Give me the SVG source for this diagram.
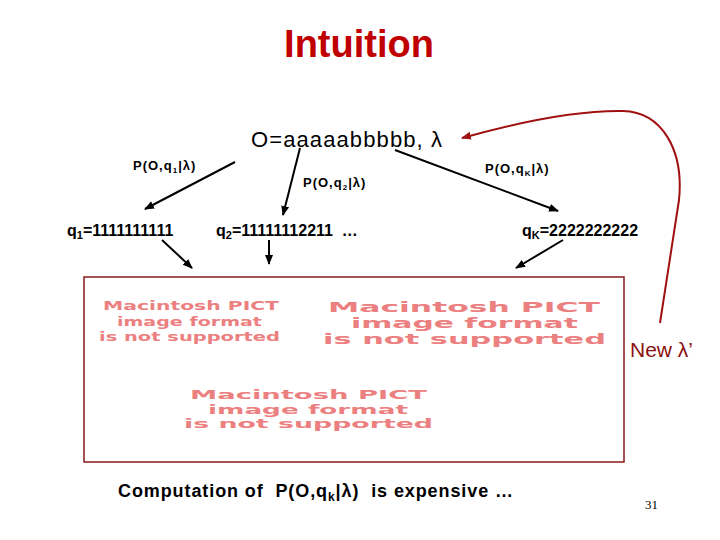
<svg xmlns="http://www.w3.org/2000/svg" width="720" height="540" viewBox="0 0 720 540">
<defs>
<style>
.t{font-family:"Liberation Sans",Arial,sans-serif}
.b{font-weight:bold}
.lbl{font-family:"Liberation Sans",Arial,sans-serif;font-weight:bold;font-size:13px;fill:#000}
.seq{font-family:"Liberation Sans",Arial,sans-serif;font-weight:bold;font-size:16px;fill:#000;white-space:pre}
.pict{font-family:"DejaVu Sans","Liberation Sans",sans-serif;font-weight:bold;fill:#ec8080}
.k{stroke:#000;stroke-width:2;fill:none}
.r{stroke:#a01010;stroke-width:2;fill:none}
</style>
<marker id="ah" viewBox="0 0 10 10" refX="9" refY="5" markerWidth="5" markerHeight="5" orient="auto" markerUnits="strokeWidth"><path d="M0,1 L10,5 L0,9 z" fill="#000"/></marker>
<marker id="ahr" viewBox="0 0 10 10" refX="9" refY="5" markerWidth="5" markerHeight="5" orient="auto" markerUnits="strokeWidth"><path d="M0,1 L10,5 L0,9 z" fill="#a01010"/></marker>
</defs>
<rect width="720" height="540" fill="#fff"/>
<g id="title"><text class="t b" x="359" y="57" font-size="38" fill="#c00000" text-anchor="middle">Intuition</text></g>
<g id="obs"><text class="t" x="251" y="147" font-size="22" fill="#000" textLength="191">O=aaaaabbbbb, λ</text></g>
<g id="p1"><text class="lbl" x="133" y="170" letter-spacing="1">P(O,q<tspan font-size="8" dy="3">1</tspan><tspan dy="-3">|λ)</tspan></text></g>
<g id="p2"><text class="lbl" x="303" y="187" letter-spacing="1">P(O,q<tspan font-size="8" dy="3">2</tspan><tspan dy="-3">|λ)</tspan></text></g>
<g id="pk"><text class="lbl" x="485" y="173" letter-spacing="1">P(O,q<tspan font-size="8" dy="3">K</tspan><tspan dy="-3">|λ)</tspan></text></g>
<g id="q1"><text class="seq" x="67" y="236">q<tspan font-size="11" dy="3">1</tspan><tspan dy="-3">=1111111111</tspan></text></g>
<g id="q2"><text class="seq" x="216" y="236" xml:space="preserve">q<tspan font-size="11" dy="3">2</tspan><tspan dy="-3">=11111112211  …</tspan></text></g>
<g id="qk"><text class="seq" x="522" y="236">q<tspan font-size="11" dy="3">K</tspan><tspan dy="-3">=2222222222</tspan></text></g>
<g id="box">
<rect x="84" y="277" width="540" height="185" fill="#fff" stroke="#8b1a1a" stroke-width="1.5"/>
<text class="pict" font-size="13">
<tspan x="103" y="310" textLength="176" lengthAdjust="spacingAndGlyphs">Macintosh PICT</tspan>
<tspan x="117" y="326" textLength="145" lengthAdjust="spacingAndGlyphs">image format</tspan>
<tspan x="99" y="341" textLength="181" lengthAdjust="spacingAndGlyphs">is not supported</tspan>
</text>
<text class="pict" font-size="14">
<tspan x="328" y="312" textLength="272" lengthAdjust="spacingAndGlyphs">Macintosh PICT</tspan>
<tspan x="351" y="328" textLength="227" lengthAdjust="spacingAndGlyphs">image format</tspan>
<tspan x="323" y="344" textLength="283" lengthAdjust="spacingAndGlyphs">is not supported</tspan>
</text>
<text class="pict" font-size="13">
<tspan x="190" y="399" textLength="237" lengthAdjust="spacingAndGlyphs">Macintosh PICT</tspan>
<tspan x="208" y="414" textLength="200" lengthAdjust="spacingAndGlyphs">image format</tspan>
<tspan x="184" y="428" textLength="249" lengthAdjust="spacingAndGlyphs">is not supported</tspan>
</text>
</g>
<g id="newl"><text class="t" x="630" y="357" font-size="21" fill="#8b1010">New λ’</text></g>
<g id="note"><text class="t b" x="118" y="497" font-size="18" fill="#000" xml:space="preserve" textLength="395">Computation of  P(O,q<tspan font-size="12" dy="4">k</tspan><tspan dy="-4">|λ)  is expensive …</tspan></text></g>
<g id="page"><text x="645" y="509" font-family="Liberation Serif,serif" font-size="13" fill="#000">31</text></g>
<g id="connectors">
<line class="k" x1="235" y1="162" x2="145" y2="209" marker-end="url(#ah)"/>
<line class="k" x1="300" y1="148" x2="283" y2="215" marker-end="url(#ah)"/>
<line class="k" x1="395" y1="150" x2="558" y2="211" marker-end="url(#ah)"/>
<line class="k" x1="162" y1="240" x2="192" y2="268" marker-end="url(#ah)"/>
<line class="k" x1="269" y1="240" x2="269" y2="264" marker-end="url(#ah)"/>
<line class="k" x1="563" y1="240" x2="516" y2="268" marker-end="url(#ah)"/>
<path class="r" d="M660 323 L679 200 C684 150 662 112 623 111 C572 110 512 124 462 138" marker-end="url(#ahr)"/>
</g>
</svg>
